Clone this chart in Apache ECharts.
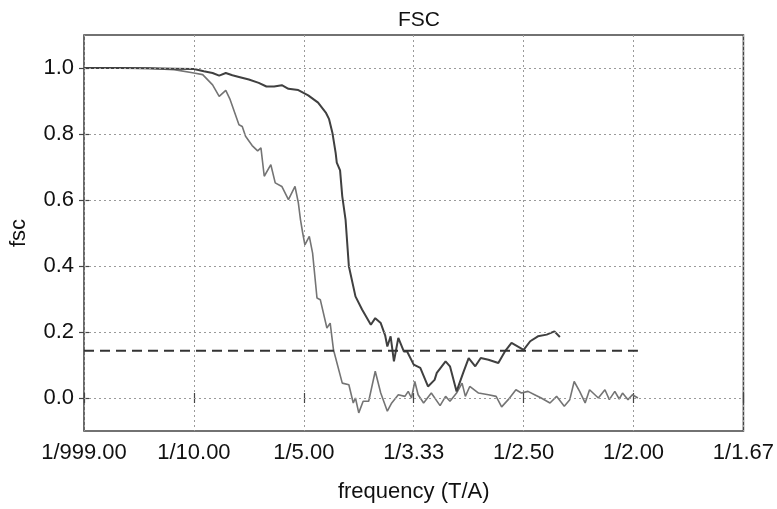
<!DOCTYPE html>
<html>
<head>
<meta charset="utf-8">
<script src="https://cdn.jsdelivr.net/npm/echarts@6/dist/echarts.min.js"></script>
<style>
  html, body { margin: 0; padding: 0; background: #fff; }
  #chart { width: 777px; height: 509px; }
</style>
</head>
<body>
<div id="chart"></div>
<script>
// Spatial frequency (1/A) for each FSC curve
const fscFreqA = [0, 0.032, 0.059, 0.082, 0.100, 0.109, 0.117, 0.123, 0.129, 0.135, 0.141, 0.150, 0.159, 0.166, 0.173, 0.180, 0.186, 0.195, 0.204, 0.213, 0.220, 0.223, 0.226, 0.229, 0.230, 0.233, 0.235, 0.238, 0.241, 0.247, 0.253, 0.261, 0.265, 0.270, 0.274, 0.276, 0.279, 0.282, 0.286, 0.291, 0.294, 0.300, 0.306, 0.313, 0.319, 0.321, 0.329, 0.333, 0.339, 0.345, 0.350, 0.356, 0.361, 0.368, 0.377, 0.383, 0.389, 0.400, 0.406, 0.413, 0.421, 0.428, 0.433];
const fscValsA = [1.0, 1.0, 0.999, 0.998, 0.997, 0.990, 0.985, 0.977, 0.985, 0.978, 0.973, 0.965, 0.955, 0.944, 0.944, 0.948, 0.937, 0.933, 0.917, 0.895, 0.865, 0.845, 0.804, 0.742, 0.713, 0.690, 0.611, 0.540, 0.399, 0.308, 0.268, 0.222, 0.242, 0.227, 0.190, 0.156, 0.187, 0.111, 0.182, 0.141, 0.141, 0.101, 0.091, 0.035, 0.055, 0.076, 0.111, 0.096, 0.020, 0.076, 0.121, 0.096, 0.121, 0.116, 0.106, 0.141, 0.167, 0.146, 0.172, 0.187, 0.192, 0.202, 0.185];

const fscFreqB = [0, 0.032, 0.059, 0.082, 0.100, 0.108, 0.117, 0.123, 0.129, 0.133, 0.141, 0.144, 0.147, 0.153, 0.158, 0.161, 0.164, 0.170, 0.174, 0.180, 0.186, 0.192, 0.195, 0.197, 0.199, 0.201, 0.205, 0.208, 0.212, 0.215, 0.221, 0.224, 0.227, 0.235, 0.241, 0.245, 0.247, 0.250, 0.254, 0.259, 0.265, 0.270, 0.276, 0.280, 0.286, 0.292, 0.295, 0.298, 0.301, 0.304, 0.309, 0.316, 0.324, 0.329, 0.333, 0.339, 0.344, 0.347, 0.351, 0.359, 0.368, 0.375, 0.380, 0.386, 0.393, 0.398, 0.404, 0.410, 0.416, 0.424, 0.430, 0.437, 0.442, 0.446, 0.451, 0.456, 0.460, 0.468, 0.474, 0.478, 0.483, 0.487, 0.490, 0.495, 0.499, 0.504];
const fscValsB = [1.0, 1.0, 0.999, 0.995, 0.985, 0.980, 0.949, 0.914, 0.932, 0.904, 0.828, 0.823, 0.793, 0.765, 0.749, 0.758, 0.672, 0.707, 0.652, 0.641, 0.601, 0.641, 0.592, 0.540, 0.500, 0.464, 0.490, 0.439, 0.303, 0.298, 0.212, 0.227, 0.146, 0.045, 0.040, -0.015, 0.0, -0.045, -0.010, -0.010, 0.081, 0.015, -0.040, -0.015, 0.010, 0.005, 0.020, 0.0, 0.050, 0.010, -0.015, 0.015, -0.023, 0.005, -0.010, 0.015, 0.045, 0.005, 0.035, 0.015, 0.010, 0.005, -0.027, -0.005, 0.025, 0.015, 0.020, 0.010, 0.0, -0.015, 0.005, -0.025, -0.005, 0.050, 0.020, -0.015, 0.025, 0.0, 0.025, -0.005, 0.020, -0.003, 0.015, -0.005, 0.010, 0.0];

// Threshold line
const thresholdValue = 0.143;
const thresholdRange = [0, 0.504];

const xTicks = [0, 0.1, 0.2, 0.3, 0.4, 0.5, 0.6];
const yTicks = [0.0, 0.2, 0.4, 0.6, 0.8, 1.0];

const pairs = (xs, ys) => xs.map((x, i) => [x, ys[i]]);
const fmtFreq = v => v === 0 ? '1/999.00' : '1/' + (1 / v).toFixed(2);

const font = '"Liberation Sans", Arial, sans-serif';
const chart = echarts.init(document.getElementById('chart'), null, { renderer: 'canvas' });

const tickStyle = { color: '#444', width: 1.2 };

chart.setOption({
  backgroundColor: '#fff',
  animation: false,
  title: {
    text: 'FSC', left: 414, top: 5, textAlign: 'center',
    textStyle: { fontFamily: font, fontSize: 21, fontWeight: 'normal', color: '#111' }
  },
  grid: { left: 84, right: 31, top: 35, bottom: 78, show: true, borderColor: '#444', borderWidth: 1.6, backgroundColor: 'transparent' },
  xAxis: [{
    type: 'value', min: 0, max: 0.6, interval: 0.1,
    name: 'frequency (T/A)', nameLocation: 'middle', nameGap: 50,
    nameTextStyle: { fontFamily: font, fontSize: 22, color: '#111' },
    axisLine: { show: false },
    axisTick: { show: true, inside: true, length: 5, lineStyle: tickStyle },
    axisLabel: { formatter: fmtFreq, fontFamily: font, fontSize: 22, color: '#111', margin: 11, showMinLabel: true, showMaxLabel: true },
    splitLine: { show: true, lineStyle: { color: '#9a9a9a', type: [2, 3], width: 1 } }
  }, {
    type: 'value', position: 'top', min: 0, max: 0.6, interval: 0.1,
    axisLine: { show: false },
    axisTick: { show: true, inside: true, length: 5, lineStyle: tickStyle },
    axisLabel: { show: false }, splitLine: { show: false }
  }],
  yAxis: [{
    type: 'value', min: -0.1, max: 1.1,
    name: 'fsc', nameLocation: 'middle', nameGap: 54, nameRotate: 90,
    nameTextStyle: { fontFamily: font, fontSize: 22, color: '#111' },
    axisLine: { show: false },
    axisTick: { show: true, inside: true, length: 5, customValues: yTicks, lineStyle: tickStyle },
    axisLabel: {
      fontFamily: font, fontSize: 22, color: '#111', margin: 10,
      customValues: yTicks, formatter: v => v.toFixed(1)
    },
    splitLine: { show: false }
  }, {
    type: 'value', position: 'right', min: -0.1, max: 1.1,
    axisLine: { show: false },
    axisTick: { show: true, inside: true, length: 5, customValues: yTicks, lineStyle: tickStyle },
    axisLabel: { show: false }, splitLine: { show: false }
  }],
  series: [{
    type: 'line', name: 'FSC A', showSymbol: false, symbol: 'none',
    data: pairs(fscFreqA, fscValsA),
    lineStyle: { color: '#404040', width: 2 }, z: 3
  }, {
    type: 'line', name: 'FSC B', showSymbol: false, symbol: 'none',
    data: pairs(fscFreqB, fscValsB),
    lineStyle: { color: '#747474', width: 1.6 }, z: 2
  }, {
    type: 'line', name: 'threshold', showSymbol: false, symbol: 'none',
    data: thresholdRange.map(x => [x, thresholdValue]),
    lineStyle: { color: '#333', width: 2, type: [10, 6] }, z: 4
  }, {
    // horizontal dotted gridlines at the labelled y ticks
    type: 'line', silent: true, symbol: 'none', data: [],
    markLine: {
      silent: true, symbol: 'none', label: { show: false },
      lineStyle: { color: '#9a9a9a', type: [2, 3], width: 1 },
      data: yTicks.map(v => ({ yAxis: v }))
    }
  }]
});
</script>
</body>
</html>
